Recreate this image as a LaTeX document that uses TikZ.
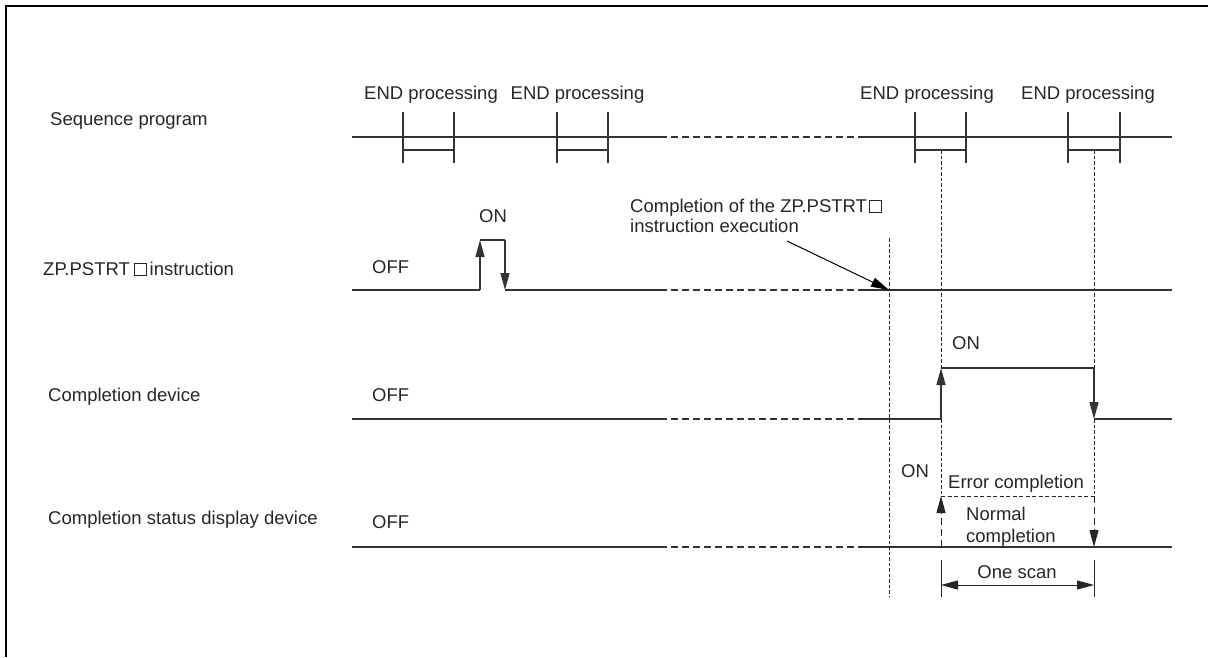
\documentclass[tikz,border=0pt]{standalone}
\usepackage{fontspec}
\setmainfont{Liberation Sans}
\usetikzlibrary{arrows.meta}
\newcommand\fs{\fontsize{18.5}{22}\selectfont}
\newcommand\sqbx{{\setlength{\fboxsep}{0pt}\setlength{\fboxrule}{0.9pt}\fbox{\rule{0pt}{11pt}\hspace{11pt}}}}
\tikzset{
  sig/.style={line width=1.3pt, draw=black!80},
  dsig/.style={sig, dash pattern=on 7pt off 4pt},
  guide/.style={line width=0.8pt, draw=black!85, dash pattern=on 3.5pt off 2pt},
  arr/.style={-{Triangle[length=17pt,width=9pt]}},
  lbl/.style={font=\fs, text=black!85, inner sep=0pt, anchor=base west},
  clbl/.style={font=\fs, text=black!85, inner sep=0pt, anchor=base},
}
\begin{document}
\begin{tikzpicture}[x=1pt,y=-1pt]
\useasboundingbox (0,0) rectangle (1208,657);
% frame
\draw[line width=2.5pt] (6,657) -- (6,6) -- (1208,6);

% row labels
\node[lbl] (lseq) at (50,125) {Sequence program};
\node[lbl] (lins) at (43,275) {ZP.PSTRT\hspace{4pt}\sqbx\hspace{3pt}instruction};
\node[lbl] (lcd) at (48,401) {Completion device};
\node[lbl] (lcs) at (48,524) {Completion status display device};

% sequence program row
\coordinate (s0) at (352,137); \coordinate (s1) at (660,137);
\coordinate (s2) at (863,137); \coordinate (s3) at (1172,137);
\draw[sig] (s0) -- (s1); \draw[dsig] (s1) -- (s2); \draw[sig] (s2) -- (s3);
\foreach \a/\b in {403/454, 557/608, 915/966, 1068/1120}{
  \draw[sig] (\a,112) -- (\a,163);
  \draw[sig] (\b,112) -- (\b,163);
  \draw[sig] (\a,150) -- (\b,150);
}
\node[clbl] (e1) at (431,99) {END processing};
\node[clbl] (e2) at (577.5,99) {END processing};
\node[clbl] (e3) at (927,99) {END processing};
\node[clbl] (e4) at (1088,99) {END processing};

% instruction row
\coordinate (p0) at (352,290); \coordinate (p1) at (480,290);
\coordinate (p2) at (480,240); \coordinate (p3) at (505,240);
\coordinate (p4) at (505,290); \coordinate (p5) at (660,290);
\coordinate (p6) at (863,290); \coordinate (p7) at (1172,290);
\draw[sig] (p0) -- (p1);
\draw[sig,arr] (p1) -- (p2);
\draw[sig] (p2) -- (p3);
\draw[sig,arr] (p3) -- (p4);
\draw[sig] (p4) -- (p5);
\draw[dsig] (p5) -- (p6);
\draw[sig] (p6) -- (p7);
\node[clbl] (on1) at (493,222) {ON};
\node[lbl] (off1) at (372,273) {OFF};

% annotation
\node[lbl] (ann1) at (630,212) {Completion of the ZP.PSTRT\hspace{2pt}\sqbx};
\node[lbl] (ann2) at (630,232) {instruction execution};
\coordinate (a0) at (787,241);
\coordinate (a1) at (889,290);
\draw[line width=1pt, -{Triangle[length=18pt,width=9.5pt]}] (a0) -- (a1);

% completion device row
\coordinate (c0) at (352,419); \coordinate (c1) at (660,419);
\coordinate (c2) at (863,419); \coordinate (c3) at (941,419);
\coordinate (c4) at (941,368); \coordinate (c5) at (1094,368);
\coordinate (c6) at (1094,419); \coordinate (c7) at (1172,419);
\draw[sig] (c0) -- (c1);
\draw[dsig] (c1) -- (c2);
\draw[sig] (c2) -- (c3);
\draw[sig,arr] (c3) -- (c4);
\draw[sig] (c4) -- (c5);
\draw[sig,arr] (c5) -- (c6);
\draw[sig] (c6) -- (c7);
\node[lbl] (off2) at (372,401) {OFF};
\node[lbl] (on2) at (952,349) {ON};

% completion status row
\coordinate (d0) at (352,547); \coordinate (d1) at (660,547);
\coordinate (d2) at (863,547); \coordinate (d3) at (1172,547);
\draw[sig] (d0) -- (d1);
\draw[dsig] (d1) -- (d2);
\draw[sig] (d2) -- (d3);
\coordinate (ea) at (941,496); \coordinate (eb) at (1094,496);
\coordinate (da) at (941,547); \coordinate (db) at (1094,547);
\draw[line width=1pt, draw=black!85, dash pattern=on 4pt off 2.5pt] (ea) -- (eb);
\draw[line width=1pt, draw=black!85, dash pattern=on 7pt off 4pt, arr] (da) -- (ea);
\draw[line width=1pt, draw=black!85, dash pattern=on 7pt off 4pt, arr] (eb) -- (db);
\node[lbl] (off3) at (372,528) {OFF};
\node[lbl] (on3) at (901,477) {ON};
\node[lbl] (err) at (948,488) {Error completion};
\node[lbl] (nrm1) at (966,520) {Normal};
\node[lbl] (nrm2) at (966,542) {completion};

% guides
\coordinate (g1a) at (941,150); \coordinate (g2a) at (1094,150);
\draw[guide] (g1a) -- (c4);
\draw[guide] (g2a) -- (c5);
\draw[guide] (c3) -- (ea);
\draw[guide] (c6) -- (eb);
\coordinate (x0) at (889,238); \coordinate (x1) at (889,596);
\draw[guide] (x0) -- (x1);

% one scan dimension
\coordinate (m1) at (941,560); \coordinate (m2) at (941,597);
\coordinate (n1) at (1094,560); \coordinate (n2) at (1094,597);
\draw[line width=1pt, draw=black!85] (m1) -- (m2);
\draw[line width=1pt, draw=black!85] (n1) -- (n2);
\coordinate (o1) at (941,585); \coordinate (o2) at (1094,585);
\draw[line width=1pt, draw=black!85, {Triangle[length=17pt,width=9pt]}-{Triangle[length=17pt,width=9pt]}] (o1) -- (o2);
\node[clbl] (scan) at (1017,578) {One scan};
\end{tikzpicture}
\end{document}
